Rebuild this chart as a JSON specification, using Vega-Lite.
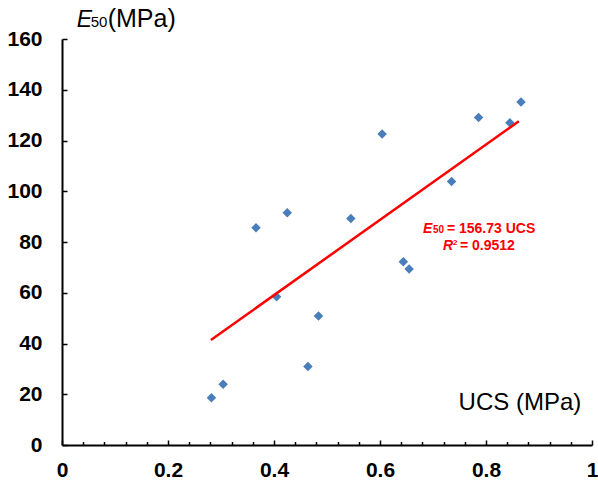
{
  "$schema": "https://vega.github.io/schema/vega-lite/v6.json",
  "width": 530,
  "height": 406,
  "autosize": {"type": "none"},
  "padding": {"left": 62, "top": 39, "right": 6, "bottom": 38},
  "background": "white",
  "config": {
    "view": {"stroke": null},
    "font": "Liberation Sans",
    "axis": {
      "grid": false,
      "domainColor": "black",
      "domainWidth": 2,
      "tickColor": "black",
      "tickWidth": 1.5,
      "labelColor": "black",
      "labelFont": "Liberation Sans",
      "labelFontWeight": "bold",
      "labelFontSize": 21
    }
  },
  "datasets": {
    "pts": [
      {"ucs": 0.282, "e50": 18.6},
      {"ucs": 0.304, "e50": 23.9},
      {"ucs": 0.366, "e50": 85.6},
      {"ucs": 0.405, "e50": 58.4},
      {"ucs": 0.425, "e50": 91.5},
      {"ucs": 0.464, "e50": 30.9},
      {"ucs": 0.484, "e50": 50.8},
      {"ucs": 0.545, "e50": 89.3},
      {"ucs": 0.604, "e50": 122.6},
      {"ucs": 0.644, "e50": 72.2},
      {"ucs": 0.655, "e50": 69.4},
      {"ucs": 0.735, "e50": 103.8},
      {"ucs": 0.786, "e50": 129.1},
      {"ucs": 0.845, "e50": 127.0},
      {"ucs": 0.866, "e50": 135.2}
    ],
    "fit": [
      {"ucs": 0.281, "e50": 41.4},
      {"ucs": 0.862, "e50": 127.6}
    ]
  },
  "layer": [
    {
      "data": {"name": "pts"},
      "mark": {"type": "point", "shape": "diamond", "filled": true, "size": 90, "color": "#4A7EBB", "opacity": 1},
      "encoding": {
        "x": {
          "field": "ucs", "type": "quantitative",
          "scale": {"domain": [0, 1], "nice": false, "zero": false},
          "axis": {
            "orient": "bottom",
            "values": [0, 0.2, 0.4, 0.6, 0.8, 1],
            "format": "~g",
            "tickSize": -5,
            "labelPadding": 19,
            "labelOverlap": false,
            "labelFlush": false,
            "title": null
          }
        },
        "y": {
          "field": "e50", "type": "quantitative",
          "scale": {"domain": [0, 160], "nice": false},
          "axis": {
            "orient": "left",
            "values": [0, 20, 40, 60, 80, 100, 120, 140, 160],
            "tickSize": -5,
            "labelPadding": 25,
            "labelOverlap": false,
            "labelFlush": false,
            "title": null
          }
        }
      }
    },
    {
      "data": {"name": "fit"},
      "mark": {"type": "line", "color": "#FF0000", "strokeWidth": 2.5},
      "encoding": {
        "x": {
          "field": "ucs", "type": "quantitative",
          "axis": {
            "orient": "bottom",
            "values": [0.04, 0.08, 0.12, 0.16, 0.24, 0.28, 0.32, 0.36, 0.44, 0.48, 0.52, 0.56, 0.64, 0.68, 0.72, 0.76, 0.84, 0.88, 0.92, 0.96],
            "tickSize": -3.5,
            "labels": false,
            "domain": false,
            "title": null
          }
        },
        "y": {"field": "e50", "type": "quantitative"}
      }
    },
    {
      "data": {"values": [{}]},
      "mark": {"type": "text", "text": "E", "fontStyle": "italic", "fontSize": 23, "align": "left", "baseline": "alphabetic", "color": "black"},
      "encoding": {"x": {"datum": 0.0277, "type": "quantitative", "axis": null}, "y": {"datum": 164.8, "type": "quantitative"}}
    },
    {
      "data": {"values": [{}]},
      "mark": {"type": "text", "text": "50", "fontSize": 15, "align": "left", "baseline": "alphabetic", "dx": 14, "color": "black"},
      "encoding": {"x": {"datum": 0.0277, "type": "quantitative", "axis": null}, "y": {"datum": 164.8, "type": "quantitative"}}
    },
    {
      "data": {"values": [{}]},
      "mark": {"type": "text", "text": "(MPa)", "fontSize": 25, "align": "left", "baseline": "alphabetic", "dx": 31, "color": "black"},
      "encoding": {"x": {"datum": 0.0277, "type": "quantitative", "axis": null}, "y": {"datum": 164.8, "type": "quantitative"}}
    },
    {
      "data": {"values": [{}]},
      "mark": {"type": "text", "text": "UCS (MPa)", "fontSize": 24, "align": "center", "baseline": "alphabetic", "color": "black"},
      "encoding": {"x": {"datum": 0.864, "type": "quantitative", "axis": null}, "y": {"datum": 13.8, "type": "quantitative"}}
    },
    {
      "data": {"values": [{}]},
      "mark": {"type": "text", "text": "E", "fontStyle": "italic", "fontWeight": "bold", "fontSize": 14, "align": "left", "baseline": "alphabetic", "color": "#FF0000"},
      "encoding": {"x": {"datum": 0.681, "type": "quantitative", "axis": null}, "y": {"datum": 83.5, "type": "quantitative"}}
    },
    {
      "data": {"values": [{}]},
      "mark": {"type": "text", "text": "50", "fontWeight": "bold", "fontSize": 10, "align": "left", "baseline": "alphabetic", "dx": 10, "color": "#FF0000"},
      "encoding": {"x": {"datum": 0.681, "type": "quantitative", "axis": null}, "y": {"datum": 83.5, "type": "quantitative"}}
    },
    {
      "data": {"values": [{}]},
      "mark": {"type": "text", "text": "= 156.73 UCS", "fontWeight": "bold", "fontSize": 14, "align": "left", "baseline": "alphabetic", "dx": 24, "color": "#FF0000"},
      "encoding": {"x": {"datum": 0.681, "type": "quantitative", "axis": null}, "y": {"datum": 83.5, "type": "quantitative"}}
    },
    {
      "data": {"values": [{}]},
      "mark": {"type": "text", "text": "R", "fontStyle": "italic", "fontWeight": "bold", "fontSize": 14, "align": "left", "baseline": "alphabetic", "color": "#FF0000"},
      "encoding": {"x": {"datum": 0.7189, "type": "quantitative", "axis": null}, "y": {"datum": 76.8, "type": "quantitative"}}
    },
    {
      "data": {"values": [{}]},
      "mark": {"type": "text", "text": "2", "fontWeight": "bold", "fontSize": 8, "align": "left", "baseline": "alphabetic", "dx": 10, "dy": -5, "color": "#FF0000"},
      "encoding": {"x": {"datum": 0.7189, "type": "quantitative", "axis": null}, "y": {"datum": 76.8, "type": "quantitative"}}
    },
    {
      "data": {"values": [{}]},
      "mark": {"type": "text", "text": "= 0.9512", "fontWeight": "bold", "fontSize": 14, "align": "left", "baseline": "alphabetic", "dx": 17, "color": "#FF0000"},
      "encoding": {"x": {"datum": 0.7189, "type": "quantitative", "axis": null}, "y": {"datum": 76.8, "type": "quantitative"}}
    }
  ],
  "resolve": {"axis": {"x": "independent"}}
}
